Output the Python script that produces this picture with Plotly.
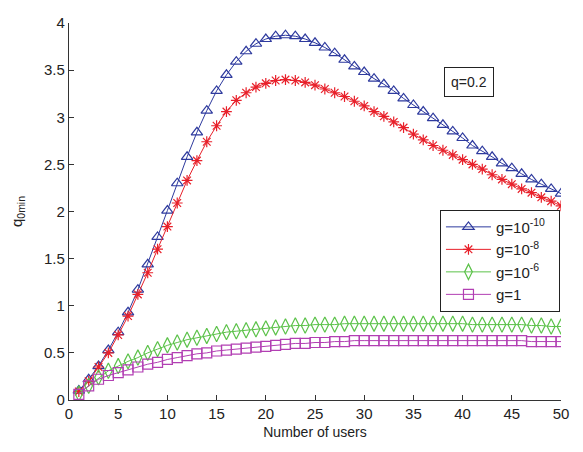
import plotly.graph_objects as go

users = list(range(1, 51))

g_1e10 = [0.10, 0.22, 0.36, 0.53, 0.72, 0.93, 1.17, 1.44, 1.73, 2.01,
          2.30, 2.58, 2.84, 3.07, 3.28, 3.45, 3.59, 3.70, 3.78, 3.83,
          3.86, 3.87, 3.86, 3.83, 3.79, 3.74, 3.68, 3.61, 3.54, 3.48,
          3.41, 3.35, 3.28, 3.20, 3.13, 3.06, 2.99, 2.92, 2.85, 2.78,
          2.70, 2.64, 2.58, 2.51, 2.46, 2.40, 2.34, 2.29, 2.24, 2.19]

g_1e8 = [0.09, 0.20, 0.35, 0.50, 0.69, 0.89, 1.12, 1.35, 1.60, 1.84,
         2.09, 2.33, 2.54, 2.74, 2.91, 3.06, 3.18, 3.26, 3.32, 3.36,
         3.39, 3.40, 3.39, 3.37, 3.34, 3.30, 3.26, 3.22, 3.17, 3.12,
         3.06, 3.01, 2.95, 2.89, 2.82, 2.76, 2.70, 2.65, 2.60, 2.55,
         2.50, 2.45, 2.39, 2.34, 2.29, 2.24, 2.20, 2.15, 2.11, 2.06]

g_1e6 = [0.07, 0.15, 0.24, 0.31, 0.36, 0.41, 0.45, 0.50, 0.54, 0.58,
         0.61, 0.64, 0.66, 0.68, 0.70, 0.72, 0.73, 0.74, 0.75, 0.76,
         0.77, 0.78, 0.79, 0.79, 0.80, 0.80, 0.80, 0.81, 0.81, 0.81,
         0.81, 0.81, 0.81, 0.81, 0.81, 0.81, 0.81, 0.81, 0.81, 0.81,
         0.80, 0.80, 0.80, 0.80, 0.80, 0.80, 0.79, 0.79, 0.78, 0.78]

g_1 = [0.06, 0.15, 0.22, 0.26, 0.29, 0.32, 0.35, 0.38, 0.40, 0.43,
       0.45, 0.47, 0.49, 0.50, 0.52, 0.53, 0.54, 0.55, 0.56, 0.57,
       0.58, 0.59, 0.60, 0.60, 0.61, 0.61, 0.62, 0.62, 0.63, 0.63,
       0.63, 0.63, 0.63, 0.63, 0.63, 0.63, 0.63, 0.63, 0.63, 0.63,
       0.63, 0.63, 0.63, 0.63, 0.63, 0.63, 0.62, 0.62, 0.62, 0.62]

series = [
    ("g=10<sup>-10</sup>&nbsp;&nbsp;", g_1e10, "#2e3a9e", "triangle-up-open", 10),
    ("g=10<sup>-8</sup>", g_1e8, "#e8202a", "asterisk-open", 9),
    ("g=10<sup>-6</sup>", g_1e6, "#5cc24a", "diamond-tall-open", 11),
    ("g=1", g_1, "#b23fb3", "square-open", 10),
]

fig = go.Figure()
for name, vals, color, sym, size in series:
    fig.add_trace(go.Scatter(
        x=users, y=vals, name=name, mode="lines+markers",
        line=dict(color=color, width=1),
        marker=dict(symbol=sym, size=size, color=color,
                    line=dict(color=color, width=1.2)),
    ))

axis_common = dict(
    showline=True, linecolor="#333333", linewidth=1.2, mirror=False,
    ticks="inside", ticklen=5, tickcolor="#333333",
    showgrid=False, zeroline=False, ticklabeloverflow="allow",
    tickfont=dict(family="Liberation Sans, Arial", size=15, color="#222222"),
)

fig.update_layout(
    width=567, height=436,
    margin=dict(l=58, r=9, t=6, b=41),
    paper_bgcolor="white", plot_bgcolor="white",
    font=dict(family="Liberation Sans, Arial", size=14, color="#222222"),
    xaxis=dict(range=[0, 50], tickvals=list(range(0, 51, 5)),
               title=dict(text="Number of users", standoff=6,
                          font=dict(size=14)), **axis_common),
    yaxis=dict(range=[0, 4], tickvals=[0, 0.5, 1, 1.5, 2, 2.5, 3, 3.5, 4],
               ticktext=["0", "0.5", "1", "1.5", "2", "2.5", "3", "3.5", "4"],
               title=dict(text="q<sub>0min</sub>", standoff=20,
                          font=dict(size=15)), **axis_common),
    legend=dict(x=0.754, y=0.505, xanchor="left", yanchor="top",
                bgcolor="white", bordercolor="#222222", borderwidth=1,
                font=dict(size=15, color="#222222"),
                tracegroupgap=2, itemwidth=45),
    showlegend=True,
)

fig.add_annotation(
    x=0.864, y=0.883, xref="paper", yref="paper",
    text="q=0.2", showarrow=False,
    font=dict(size=14, color="#222222"),
    bordercolor="#222222", borderwidth=1, borderpad=6, bgcolor="white",
)

fig.write_html("out.html")
